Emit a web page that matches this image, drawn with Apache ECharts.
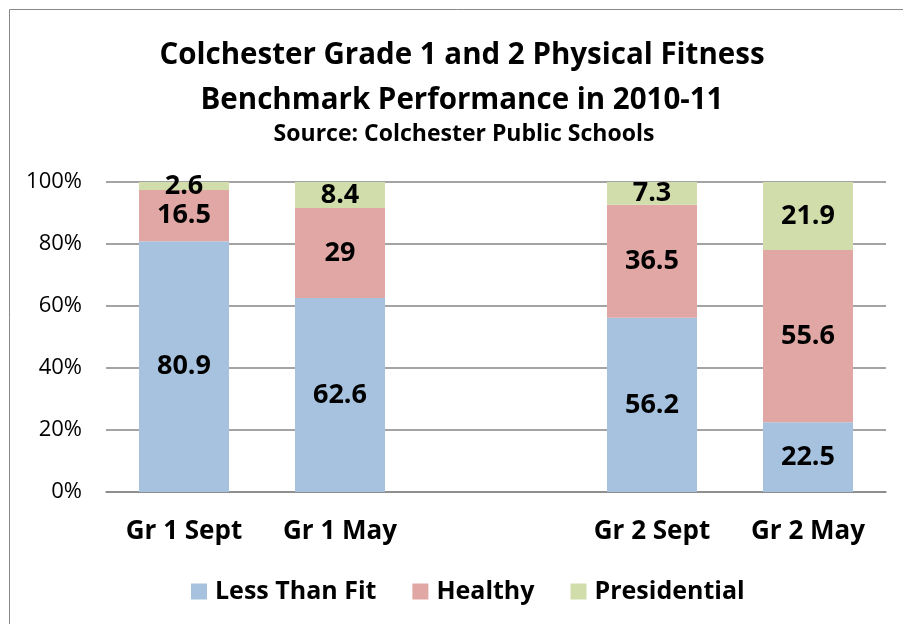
<!DOCTYPE html>
<html>
<head>
<meta charset="utf-8">
<script src="https://cdn.jsdelivr.net/npm/echarts@6/dist/echarts.min.js"></script>
<style>
  html, body { margin: 0; padding: 0; background: #fff; }
  #chart { width: 903px; height: 624px; }
</style>
</head>
<body>
<div id="chart"></div>
<script>
var categories = ['Gr 1 Sept', 'Gr 1 May', '', 'Gr 2 Sept', 'Gr 2 May'];
var lessThanFit = [80.9, 62.6, null, 56.2, 22.5];
var healthy = [16.5, 29, null, 36.5, 55.6];
var presidential = [2.6, 8.4, null, 7.3, 21.9];
var seriesNames = ['Less Than Fit', 'Healthy', 'Presidential'];
var colors = ['#A6C2DF', '#E0A7A5', '#D1DDAB'];

var font = 'Open Sans';

function barSeries(name, data, color) {
    return {
        name: name,
        type: 'bar',
        stack: 'total',
        barWidth: 90,
        data: data,
        itemStyle: {color: color},
        label: {
            show: true,
            position: 'inside',
            color: '#000',
            fontFamily: font,
            fontWeight: 'bold',
            fontSize: 27
        }
    };
}

var chart = echarts.init(document.getElementById('chart'));

chart.setOption({
    animation: false,
    backgroundColor: '#fff',
    // 外框
    graphic: [{
        type: 'rect',
        shape: {x: 9.5, y: 9.5, width: 1000, height: 1000},
        style: {fill: 'none', stroke: '#898989', lineWidth: 1}
    }],
    title: [
        {
            text: 'Colchester Grade 1 and 2 Physical Fitness\nBenchmark Performance in 2010-11',
            left: 457,
            textAlign: 'center',
            top: 28,
            textStyle: {fontFamily: font, fontWeight: 'bold', fontSize: 29.5, lineHeight: 45, color: '#000'}
        },
        {
            text: 'Source: Colchester Public Schools',
            left: 459,
            textAlign: 'center',
            top: 118,
            textStyle: {fontFamily: font, fontWeight: 'bold', fontSize: 23, color: '#000'}
        }
    ],
    legend: {
        top: 574,
        left: 186,
        itemWidth: 16,
        itemHeight: 16,
        itemGap: 36,
        icon: 'rect',
        textStyle: {fontFamily: font, fontWeight: 'bold', fontSize: 25, color: '#000', padding: [0, 0, 0, 3]},
        data: seriesNames
    },
    grid: {left: 106, right: 17, top: 182, bottom: 132},
    xAxis: {
        type: 'category',
        data: categories,
        axisLine: {lineStyle: {color: '#868686', width: 1.5}},
        axisTick: {show: false},
        axisLabel: {fontFamily: font, fontWeight: 'bold', fontSize: 26, color: '#000', margin: 27}
    },
    yAxis: {
        type: 'value',
        min: 0,
        max: 100,
        interval: 20,
        axisLine: {show: false},
        axisTick: {show: false},
        splitLine: {lineStyle: {color: '#868686', width: 1.5}},
        axisLabel: {formatter: '{value}%', fontFamily: font, fontSize: 22, color: '#000', margin: 24}
    },
    series: [
        barSeries(seriesNames[0], lessThanFit, colors[0]),
        barSeries(seriesNames[1], healthy, colors[1]),
        barSeries(seriesNames[2], presidential, colors[2])
    ]
});
</script>
</body>
</html>
